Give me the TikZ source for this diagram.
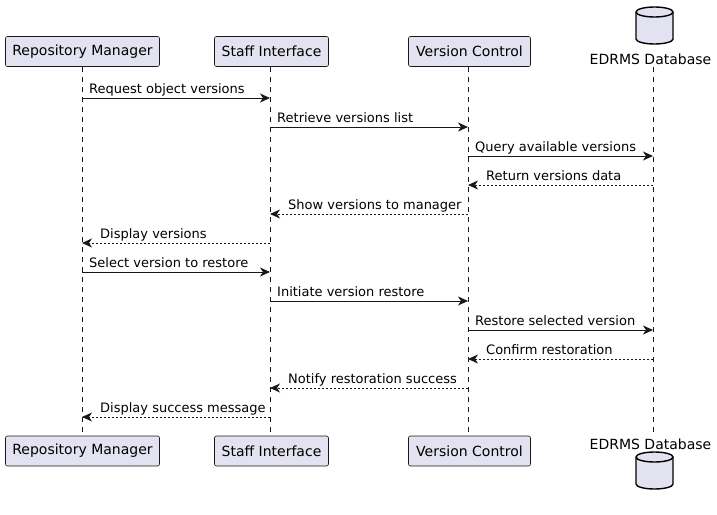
\documentclass[tikz,border=0pt]{standalone}
\usepackage{fontspec}
\setmainfont{DejaVu Sans}
\usetikzlibrary{arrows.meta}
\definecolor{pfill}{HTML}{E2E2F0}
\definecolor{pline}{HTML}{181818}
\tikzset{
  part/.style={draw=pline, line width=0.6pt, fill=pfill, rounded corners=2pt, minimum height=30pt, inner xsep=6pt, font=\fontsize{14}{16}\selectfont, text=black},
  life/.style={draw=pline, line width=0.5pt, dash pattern=on 5pt off 5pt},
  msg/.style={draw=pline, line width=0.9pt, -{Stealth[length=10pt,width=9pt,inset=3pt]}},
  ret/.style={msg, dash pattern=on 2pt off 2pt},
  lbl/.style={font=\fontsize{13}{15}\selectfont, text=black, inner sep=0pt},
  dblbl/.style={font=\fontsize{14}{16}\selectfont, text=black, inner sep=0pt},
  db/.style={draw=black, line width=1.4pt, fill=pfill}
}
\newcommand{\dbshape}[2]{% center x, top y
  \filldraw[db] (#1-18.5,#2+5) -- (#1-18.5,#2+32) arc[start angle=180,end angle=0,x radius=18.5,y radius=5] -- (#1+18.5,#2+5) arc[start angle=0,end angle=-180,x radius=18.5,y radius=5] -- cycle;
  \draw[db, fill=none] (#1-18.5,#2+5) arc[start angle=180,end angle=0,x radius=18.5,y radius=5];
}
\begin{document}
\begin{tikzpicture}[x=1pt,y=-1pt]
\useasboundingbox (0,0) rectangle (717,514);
% participants top
\node[part, minimum width=154pt] (rm) at (82.5,51.5) {Repository Manager};
\node[part, minimum width=114pt] (si) at (271.5,51.5) {Staff Interface};
\node[part, minimum width=122pt] (vc) at (469.5,51.5) {Version Control};
\dbshape{654.5}{7}
\node[dblbl] (db) at (650.5,59) {EDRMS Database};
% participants bottom
\node[part, minimum width=154pt] (rmb) at (82.5,451) {Repository Manager};
\node[part, minimum width=114pt] (sib) at (271.5,451) {Staff Interface};
\node[part, minimum width=122pt] (vcb) at (469.5,451) {Version Control};
\node[dblbl] (dbb) at (650.5,444) {EDRMS Database};
\dbshape{654.5}{452}
% lifeline anchors
\coordinate (L1) at (82,67); \coordinate (L1b) at (82,436);
\coordinate (L2) at (270,67); \coordinate (L2b) at (270,436);
\coordinate (L3) at (468,67); \coordinate (L3b) at (468,436);
\coordinate (L4) at (653,67); \coordinate (L4b) at (653,433);
\draw[life] (L1) -- (L1b);
\draw[life] (L2) -- (L2b);
\draw[life] (L3) -- (L3b);
\draw[life] (L4) -- (L4b);
% messages
\newcommand{\rmsg}[4]{% from, to, y, text
  \draw[msg] (#1 |- 0,#3) -- (#2 |- 0,#3);
  \node[lbl, anchor=base west] at ([xshift=7pt]#1 |- 0,#3-5) {#4};
}
\newcommand{\lmsg}[4]{% from, to, y, text (to is left)
  \draw[ret] (#1 |- 0,#3) -- (#2 |- 0,#3);
  \node[lbl, anchor=base west] at ([xshift=18pt]#2 |- 0,#3-5) {#4};
}
\rmsg{L1}{L2}{98}{Request object versions}
\rmsg{L2}{L3}{127}{Retrieve versions list}
\rmsg{L3}{L4}{156}{Query available versions}
\lmsg{L4}{L3}{185}{Return versions data}
\lmsg{L3}{L2}{214}{Show versions to manager}
\lmsg{L2}{L1}{243}{Display versions}
\rmsg{L1}{L2}{272}{Select version to restore}
\rmsg{L2}{L3}{301}{Initiate version restore}
\rmsg{L3}{L4}{330}{Restore selected version}
\lmsg{L4}{L3}{359}{Confirm restoration}
\lmsg{L3}{L2}{388}{Notify restoration success}
\lmsg{L2}{L1}{417}{Display success message}
\end{tikzpicture}
\end{document}
